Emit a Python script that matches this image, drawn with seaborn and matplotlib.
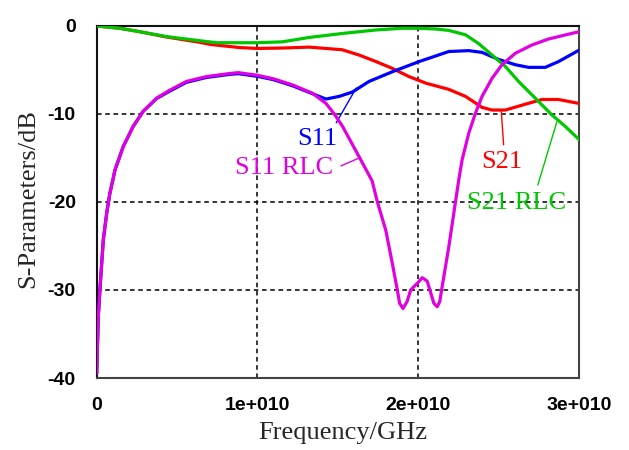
import numpy as np
import pandas as pd
import matplotlib
matplotlib.use("Agg")
import matplotlib.pyplot as plt
import matplotlib.transforms as mtransforms
import seaborn as sns

# ---------------- data (frequency in units of 1e10 Hz, values in dB) ----------------
FREQ_UNIT = 1e10

s11_rlc_f = [0.000, 0.010, 0.020, 0.031, 0.041, 0.062, 0.082, 0.103, 0.113, 0.165,
             0.227, 0.289, 0.372, 0.454, 0.558, 0.682, 0.826, 0.880, 1.000, 1.100,
             1.219, 1.343, 1.426, 1.478, 1.529, 1.632, 1.713, 1.746, 1.798, 1.839,
             1.870, 1.884, 1.905, 1.931, 1.953, 1.996, 2.025, 2.056, 2.097, 2.118,
             2.134, 2.149, 2.190, 2.221, 2.252, 2.273, 2.314, 2.356, 2.397, 2.459,
             2.521, 2.604, 2.707, 2.810, 2.914, 3.000]
s11_rlc_db = [-39.5, -33.0, -30.0, -27.0, -24.3, -21.3, -19.0, -17.3, -16.4, -13.7,
              -11.4, -9.7, -8.2, -7.3, -6.3, -5.75, -5.4, -5.3, -5.6, -6.0,
              -6.7, -7.65, -8.8, -10.0, -11.4, -14.85, -17.6, -20.0, -23.2, -27.0,
              -30.0, -31.5, -32.1, -31.3, -30.0, -29.2, -28.6, -29.0, -31.5, -31.9,
              -31.3, -29.6, -25.1, -21.3, -17.5, -15.2, -12.2, -9.9, -8.0, -5.95,
              -4.4, -3.1, -2.16, -1.48, -1.02, -0.65]

s11_f = [0.000, 0.010, 0.020, 0.031, 0.041, 0.062, 0.082, 0.103, 0.113, 0.165,
         0.227, 0.289, 0.372, 0.454, 0.558, 0.682, 0.826, 0.880, 1.000, 1.100,
         1.219, 1.343, 1.426, 1.508, 1.591, 1.694, 1.839, 2.004, 2.190, 2.314,
         2.397, 2.500, 2.604, 2.686, 2.790, 2.872, 3.000]
s11_db = [-39.5, -33.0, -30.0, -27.0, -24.3, -21.3, -19.0, -17.3, -16.4, -13.7,
          -11.4, -9.7, -8.25, -7.4, -6.4, -5.85, -5.5, -5.42, -5.72, -6.1,
          -6.8, -7.7, -8.3, -8.0, -7.5, -6.3, -5.2, -4.05, -2.9, -2.8,
          -3.0, -3.8, -4.4, -4.7, -4.7, -4.05, -2.75]

s21_f = [0.000, 0.144, 0.268, 0.434, 0.640, 0.710, 0.888, 1.000, 1.160, 1.322,
         1.527, 1.632, 1.738, 1.837, 1.943, 2.048, 2.190, 2.294, 2.397, 2.459,
         2.542, 2.645, 2.769, 2.872, 3.000]
s21_db = [0.0, -0.26, -0.65, -1.25, -1.85, -2.1, -2.45, -2.55, -2.5, -2.4,
          -2.7, -3.3, -4.05, -4.8, -5.75, -6.5, -7.2, -8.0, -9.25, -9.55,
          -9.55, -9.0, -8.35, -8.35, -8.8]

s21_rlc_f = [0.000, 0.144, 0.268, 0.434, 0.640, 0.744, 0.998, 1.155, 1.322, 1.527,
             1.738, 1.899, 2.004, 2.110, 2.190, 2.294, 2.376, 2.459, 2.542, 2.624,
             2.728, 2.831, 2.914, 3.000]
s21_rlc_db = [0.0, -0.26, -0.65, -1.2, -1.67, -1.9, -1.9, -1.8, -1.3, -0.85,
              -0.45, -0.26, -0.26, -0.34, -0.5, -1.0, -2.0, -3.3, -4.6, -6.3,
              -8.2, -10.1, -11.4, -12.9]

series_names = ["S21", "S11", "S21 RLC", "S11 RLC"]
series_colors = ["#ff0000", "#0000ff", "#00c800", "#e000e0"]

x_ticks = [0, 1, 2, 3]
x_tick_labels = ["0", "1e+010", "2e+010", "3e+010"]
y_ticks = [0, -10, -20, -30, -40]
y_tick_labels = ["0", "-10", "-20", "-30", "-40"]

# label text positions (data units) and leader lines (text end -> curve)
label_text_pos = {"S11": (1.372, -12.84), "S11 RLC": (1.167, -16.15),
                  "S21": (2.519, -15.45), "S21 RLC": (2.612, -20.1)}
leader_from = {"S11": (1.490, -11.0), "S11 RLC": (1.519, -15.9),
               "S21": (2.531, -13.5), "S21 RLC": (2.744, -18.07)}
leader_to = {"S11": (1.614, -7.05), "S11 RLC": (1.632, -15.0),
             "S21": (2.517, -9.74), "S21 RLC": (2.862, -10.9)}

# ---------------- build long-form table ----------------
frames = []
for name, f, d in [("S21", s21_f, s21_db), ("S11", s11_f, s11_db),
                   ("S21 RLC", s21_rlc_f, s21_rlc_db), ("S11 RLC", s11_rlc_f, s11_rlc_db)]:
    frames.append(pd.DataFrame({"freq": np.array(f) * FREQ_UNIT, "db": d, "series": name}))
df = pd.concat(frames, ignore_index=True)

# ---------------- plot ----------------
sns.set_style("white")
plt.rcParams["axes.unicode_minus"] = False
plt.rcParams["font.family"] = ["Liberation Serif", "DejaVu Serif"]

fig = plt.figure(figsize=(6.29, 4.5), dpi=100)
ax = fig.add_axes([96.7 / 629, 1 - 378 / 450, (579 - 96.7) / 629, (378 - 26) / 450])

for name, color in zip(series_names, series_colors):
    sns.lineplot(data=df[df["series"] == name], x="freq", y="db", color=color,
                 linewidth=2.3, ax=ax, legend=False, sort=False, estimator=None,
                 zorder=3)

ax.set_xlim(0, 3 * FREQ_UNIT)
ax.set_ylim(-40, 0)
ax.set_xticks([t * FREQ_UNIT for t in x_ticks])
ax.set_xticklabels(x_tick_labels)
ax.set_yticks(y_ticks)
ax.set_yticklabels(y_tick_labels)

tick_font = dict(family=["Liberation Sans", "DejaVu Sans"], weight="bold", size=14)
for lab in ax.get_xticklabels() + ax.get_yticklabels():
    lab.set_fontproperties(matplotlib.font_manager.FontProperties(**tick_font))
shift = mtransforms.ScaledTranslation(0, 6 / 100, fig.dpi_scale_trans)
for lab in ax.get_yticklabels():
    lab.set_transform(lab.get_transform() + shift)

ax.tick_params(axis="both", direction="out", length=9, width=1.3, color="#222222",
               labelcolor="black")
ax.tick_params(axis="x", pad=5)
ax.tick_params(axis="y", pad=6)

ax.grid(True, color="black", linestyle=(0, (3, 2.4)), linewidth=1.1)
ax.set_axisbelow(True)

for side, sp in ax.spines.items():
    sp.set_visible(True)
    sp.set_linewidth(1.5)
    sp.set_color("#111111" if side in ("left", "top") else "#444444")

ax.set_xlabel("Frequency/GHz", fontsize=19, family=["Liberation Serif"])
ax.set_ylabel("S-Parameters/dB", fontsize=19, family=["Liberation Serif"])
ax.xaxis.set_label_coords(0.51, -0.125)
ax.yaxis.set_label_coords(-0.12, 0.51)

label_colors = dict(zip(series_names, series_colors))
for name in ["S11", "S11 RLC", "S21", "S21 RLC"]:
    tx, ty = label_text_pos[name]
    ax.text(tx * FREQ_UNIT, ty, name, color=label_colors[name], fontsize=19,
            family=["Liberation Serif"], ha="center", va="center", zorder=2)
    fx, fy = leader_from[name]
    lx, ly = leader_to[name]
    ax.annotate("", xy=(lx * FREQ_UNIT, ly), xytext=(fx * FREQ_UNIT, fy),
                arrowprops=dict(arrowstyle="-", color=label_colors[name], lw=1.0,
                                shrinkA=0, shrinkB=0), zorder=2)

fig.savefig("out.png", dpi=100)
